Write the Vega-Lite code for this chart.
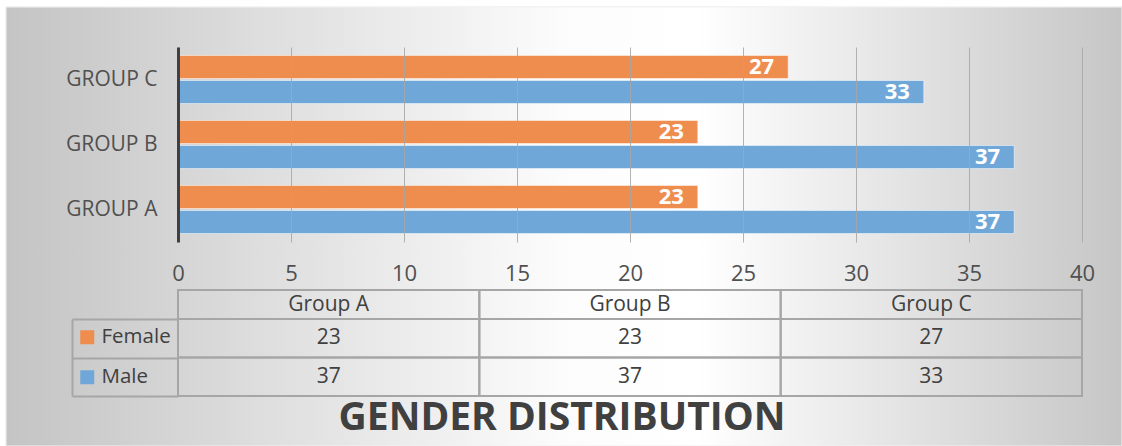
{
  "$schema": "https://vega.github.io/schema/vega-lite/v6.json",
  "width": 1116,
  "height": 439,
  "padding": {"left": 6, "top": 7, "right": 0, "bottom": 0},
  "autosize": {"type": "none"},
  "background": "white",
  "config": {"view": {"stroke": null}, "font": "Open Sans"},
  "title": {
    "text": "GENDER DISTRIBUTION",
    "orient": "bottom",
    "anchor": "middle",
    "frame": "group",
    "offset": -17,
    "baseline": "alphabetic",
    "font": "Open Sans",
    "fontSize": 39,
    "fontWeight": "bold",
    "color": "#404040",
    "zindex": 1,
    "dx": -2
  },
  "data": {
    "values": [
      {"group": "Group A", "gender": "Female", "value": 23},
      {"group": "Group A", "gender": "Male", "value": 37},
      {"group": "Group B", "gender": "Female", "value": 23},
      {"group": "Group B", "gender": "Male", "value": 37},
      {"group": "Group C", "gender": "Female", "value": 27},
      {"group": "Group C", "gender": "Male", "value": 33}
    ]
  },
  "layer": [
    {
      "mark": {
        "type": "rect",
        "fill": {
          "gradient": "linear",
          "x1": 0, "y1": 0, "x2": 1, "y2": 0,
          "stops": [
            {"offset": 0, "color": "#c4c4c4"},
            {"offset": 0.5, "color": "#fcfcfc"},
            {"offset": 0.62, "color": "#ffffff"},
            {"offset": 1, "color": "#c6c6c6"}
          ]
        },
        "stroke": "#f2f2f2",
        "strokeWidth": 1
      },
      "encoding": {}
    },
    {
      "encoding": {
        "y": {
          "field": "group",
          "type": "nominal",
          "sort": ["Group C", "Group B", "Group A"],
          "scale": {"range": [40, 235], "paddingInner": 0.26, "paddingOuter": 0.13},
          "axis": {
            "orient": "left",
            "offset": -172,
            "title": null,
            "ticks": false,
            "tickSize": 0,
            "labelPadding": 21,
            "labelExpr": "upper(datum.label)",
            "labelFont": "Open Sans",
            "labelFontSize": 21,
            "labelColor": "#505050",
            "domainColor": "#404040",
            "domainWidth": 3,
            "grid": false,
            "zindex": 1
          }
        },
        "yOffset": {
          "field": "gender",
          "type": "nominal",
          "sort": ["Female", "Male"],
          "scale": {"paddingInner": 0.08, "paddingOuter": 0}
        },
        "x": {
          "field": "value",
          "type": "quantitative",
          "scale": {"domain": [-7.611, 41.77], "nice": false, "zero": false},
          "axis": {
            "orient": "top",
            "offset": -273,
            "title": null,
            "values": [0, 5, 10, 15, 20, 25, 30, 35, 40],
            "domain": false,
            "ticks": false,
            "tickSize": 0,
            "labelPadding": 0,
            "labelBaseline": "alphabetic",
            "labelFont": "Open Sans",
            "labelFontSize": 22,
            "labelColor": "#505050",
            "labelFlush": false,
            "grid": true,
            "gridColor": "#a6a6a6",
            "gridWidth": 1,
            "gridOpacity": 0.85,
            "zindex": 1
          }
        }
      },
      "layer": [
        {
          "mark": {"type": "bar", "stroke": "white", "strokeOpacity": 0.5, "strokeWidth": 1},
          "encoding": {
            "x2": {"datum": 0},
            "color": {
              "field": "gender",
              "type": "nominal",
              "scale": {"domain": ["Female", "Male"], "range": ["#EF8D4F", "#70A7D9"]},
              "legend": {
                "orient": "none",
                "legendX": 71,
                "legendY": 320,
                "title": null,
                "padding": 0,
                "symbolType": "square",
                "symbolSize": 196,
                "symbolStrokeWidth": 0,
                "labelFont": "Open Sans",
                "labelFontSize": 20.5,
                "labelColor": "#404040",
                "labelOffset": 4,
                "rowPadding": 19,
                "zindex": 1
              }
            }
          }
        },
        {
          "mark": {
            "type": "text",
            "align": "right",
            "baseline": "middle",
            "dx": -14,
            "font": "Open Sans",
            "fontSize": 22,
            "fontWeight": "bold",
            "color": "white"
          },
          "encoding": {"text": {"field": "value", "type": "quantitative"}}
        }
      ]
    },
    {
      "transform": [{"filter": "datum.gender == 'Female'"}],
      "encoding": {
        "x": {
          "field": "group",
          "type": "nominal",
          "sort": ["Group A", "Group B", "Group C"],
          "scale": {"range": [172, 1076], "paddingInner": 0, "paddingOuter": 0},
          "axis": null
        },
        "y": {
          "datum": "header",
          "type": "nominal",
          "scale": {"range": [283, 312], "paddingInner": 0, "paddingOuter": 0},
          "axis": null
        }
      },
      "layer": [
        {"mark": {"type": "rect", "fill": "transparent", "stroke": "#a6a6a6", "strokeWidth": 2}},
        {
          "mark": {"type": "text", "font": "Open Sans", "fontSize": 21, "color": "#404040"},
          "encoding": {"text": {"field": "group", "type": "nominal"}}
        }
      ]
    },
    {
      "encoding": {
        "x": {
          "field": "group",
          "type": "nominal",
          "sort": ["Group A", "Group B", "Group C"],
          "scale": {"range": [172, 1076], "paddingInner": 0, "paddingOuter": 0},
          "axis": null
        },
        "y": {
          "field": "gender",
          "type": "nominal",
          "sort": ["Female", "Male"],
          "scale": {"range": [312, 389], "paddingInner": 0, "paddingOuter": 0},
          "axis": {
            "orient": "left",
            "offset": -66,
            "title": null,
            "labels": false,
            "domain": true,
            "domainColor": "#a6a6a6",
            "domainWidth": 2,
            "ticks": true,
            "tickSize": -106,
            "tickColor": "#a6a6a6",
            "tickWidth": 2,
            "tickBand": "extent",
            "grid": false,
            "zindex": 1
          }
        }
      },
      "layer": [
        {"mark": {"type": "rect", "fill": "transparent", "stroke": "#a6a6a6", "strokeWidth": 2}},
        {
          "mark": {"type": "text", "font": "Open Sans", "fontSize": 21, "color": "#404040"},
          "encoding": {"text": {"field": "value", "type": "quantitative"}}
        }
      ]
    }
  ],
  "resolve": {"scale": {"x": "independent", "y": "independent"}}
}
